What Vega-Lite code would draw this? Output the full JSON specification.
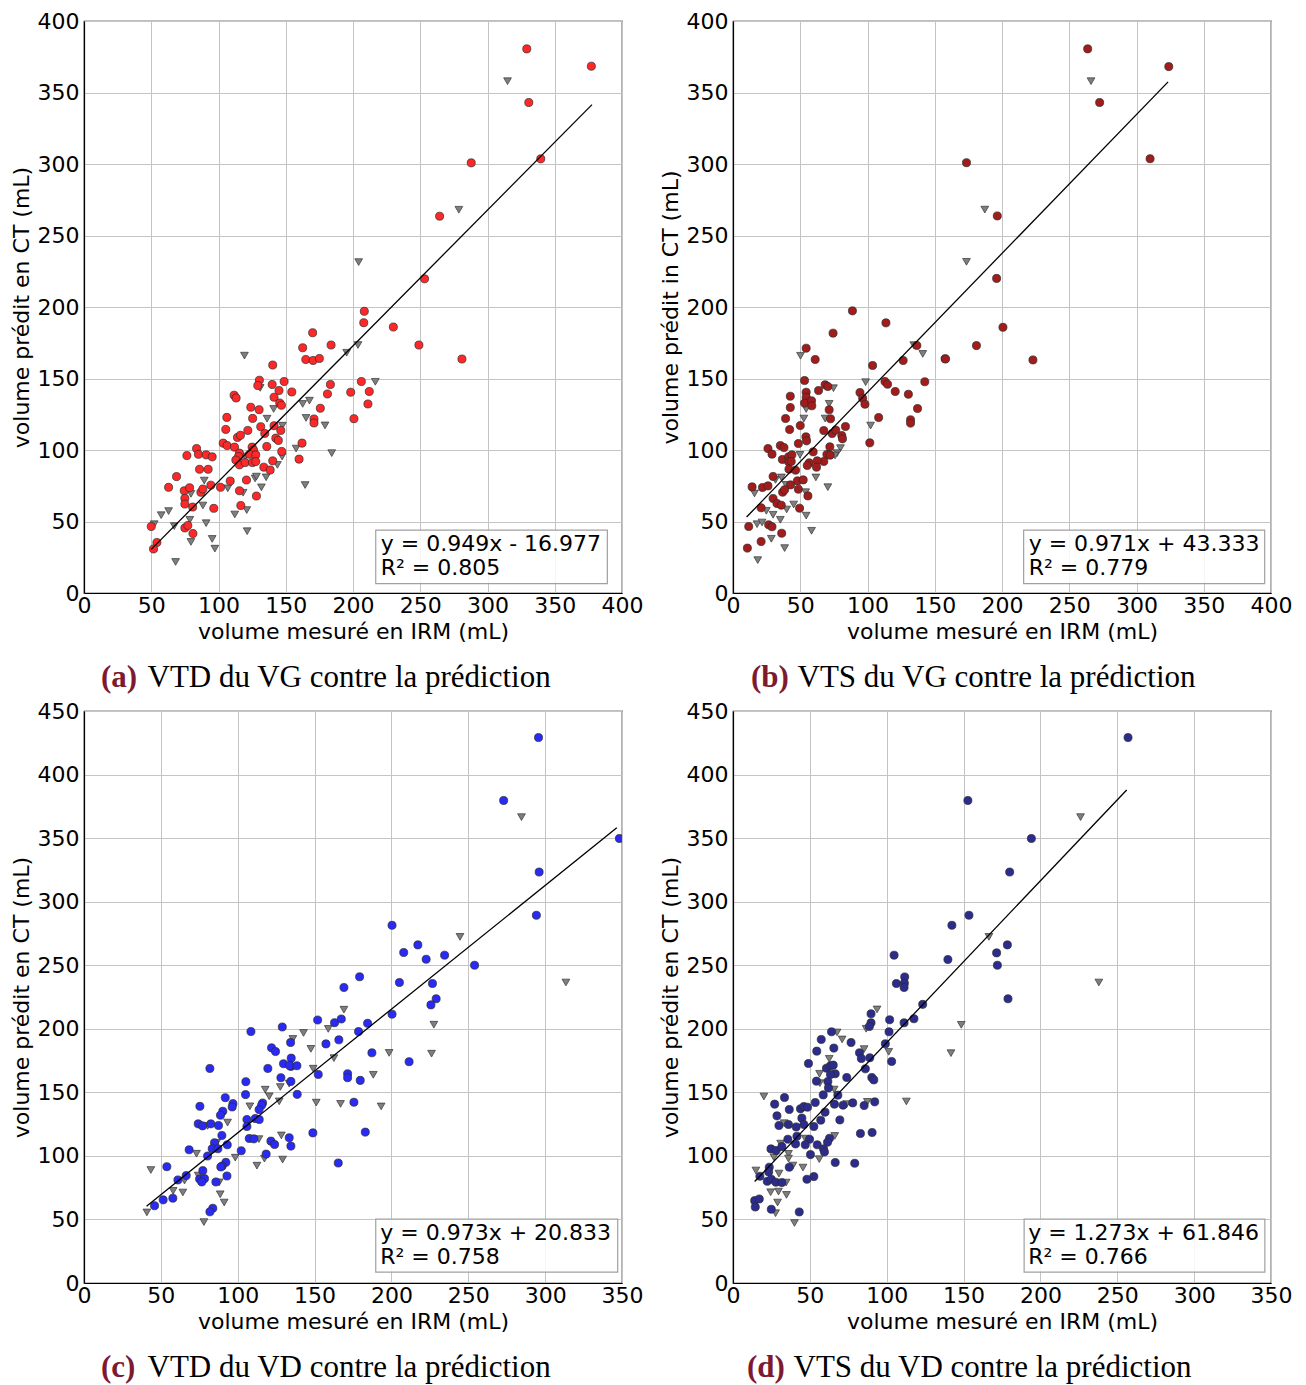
{
  "$schema": "https://vega.github.io/schema/vega-lite/v6.json",
  "background": "white",
  "padding": {"left": 9, "top": 9, "right": 5, "bottom": 5},
  "columns": 2,
  "spacing": {"row": 118, "column": 111},
  "bounds": "flush",
  "datasets": {
    "one": [{"k": 1}],
    "a": [
      {"x":208,"y":189,"s":"o"},{"x":230,"y":186,"s":"o"},{"x":170,"y":182,"s":"o"},{"x":162.6,"y":171.5,"s":"o"},{"x":183.7,"y":173.4,"s":"o"},{"x":164.9,"y":163.3,"s":"o"},{"x":170.3,"y":162.6,"s":"o"},{"x":175,"y":164,"s":"o"},{"x":140.3,"y":159.4,"s":"o"},{"x":130.4,"y":148.8,"s":"o"},{"x":129.2,"y":145.1,"s":"o"},{"x":139.9,"y":145.8,"s":"o"},{"x":148.8,"y":147.9,"s":"o"},{"x":145,"y":141.6,"s":"o"},{"x":154.5,"y":140.6,"s":"o"},{"x":141.3,"y":136.9,"s":"o"},{"x":183.2,"y":145.8,"s":"o"},{"x":181,"y":139.2,"s":"o"},{"x":198.3,"y":140.4,"s":"o"},{"x":206.2,"y":147.9,"s":"o"},{"x":212.1,"y":140.9,"s":"o"},{"x":211.1,"y":132.2,"s":"o"},{"x":200.7,"y":121.9,"s":"o"},{"x":175.7,"y":129.2,"s":"o"},{"x":171,"y":121.7,"s":"o"},{"x":171,"y":118.9,"s":"o"},{"x":162.1,"y":104.8,"s":"o"},{"x":159.9,"y":93.6,"s":"o"},{"x":111.6,"y":138.3,"s":"o"},{"x":113.1,"y":136.4,"s":"o"},{"x":124,"y":129.9,"s":"o"},{"x":130.2,"y":128.2,"s":"o"},{"x":145.5,"y":132.9,"s":"o"},{"x":146.8,"y":131.3,"s":"o"},{"x":106.2,"y":122.8,"s":"o"},{"x":125.4,"y":122.1,"s":"o"},{"x":105.4,"y":114.4,"s":"o"},{"x":121.8,"y":113.7,"s":"o"},{"x":131.4,"y":116.3,"s":"o"},{"x":141.3,"y":117,"s":"o"},{"x":146.3,"y":113.7,"s":"o"},{"x":134.4,"y":111.6,"s":"o"},{"x":114.1,"y":108.8,"s":"o"},{"x":116.3,"y":110.3,"s":"o"},{"x":142.6,"y":108.3,"s":"o"},{"x":144.5,"y":106.7,"s":"o"},{"x":103.5,"y":104.8,"s":"o"},{"x":106.4,"y":103.1,"s":"o"},{"x":111.9,"y":102,"s":"o"},{"x":125,"y":102,"s":"o"},{"x":126,"y":100,"s":"o"},{"x":135.9,"y":102.5,"s":"o"},{"x":147,"y":99,"s":"o"},{"x":115.6,"y":97.8,"s":"o"},{"x":114.9,"y":95.4,"s":"o"},{"x":112.9,"y":93,"s":"o"},{"x":115.6,"y":89.6,"s":"o"},{"x":123,"y":97,"s":"o"},{"x":127.7,"y":96.6,"s":"o"},{"x":119.8,"y":91.2,"s":"o"},{"x":125.2,"y":91.2,"s":"o"},{"x":127.7,"y":91.9,"s":"o"},{"x":133.7,"y":88,"s":"o"},{"x":140.3,"y":92.4,"s":"o"},{"x":138.4,"y":86,"s":"o"},{"x":83.7,"y":101,"s":"o"},{"x":76.5,"y":96.1,"s":"o"},{"x":85.1,"y":97,"s":"o"},{"x":90.8,"y":96.6,"s":"o"},{"x":95.3,"y":95.2,"s":"o"},{"x":85.9,"y":86.5,"s":"o"},{"x":92.3,"y":86.5,"s":"o"},{"x":68.8,"y":81.4,"s":"o"},{"x":62.9,"y":73.9,"s":"o"},{"x":74.5,"y":71.5,"s":"o"},{"x":78.5,"y":73.6,"s":"o"},{"x":86.9,"y":70.4,"s":"o"},{"x":88.4,"y":72.7,"s":"o"},{"x":94.3,"y":75.4,"s":"o"},{"x":101.5,"y":73.9,"s":"o"},{"x":108.7,"y":78.3,"s":"o"},{"x":120.8,"y":79,"s":"o"},{"x":115.6,"y":71.5,"s":"o"},{"x":128.2,"y":67.8,"s":"o"},{"x":75,"y":66.2,"s":"o"},{"x":75,"y":62.2,"s":"o"},{"x":80.8,"y":60.1,"s":"o"},{"x":96.5,"y":59.2,"s":"o"},{"x":116.6,"y":61.2,"s":"o"},{"x":50,"y":46.5,"s":"o"},{"x":75,"y":45.5,"s":"o"},{"x":77.2,"y":47.2,"s":"o"},{"x":81,"y":41.6,"s":"o"},{"x":54.2,"y":35.3,"s":"o"},{"x":51.7,"y":30.8,"s":"o"},
      {"x":329.2,"y":380.5,"s":"o"},{"x":377.2,"y":368.4,"s":"o"},{"x":330.7,"y":343,"s":"o"},{"x":287.9,"y":300.8,"s":"o"},{"x":339.6,"y":303.6,"s":"o"},{"x":264.4,"y":263.5,"s":"o"},{"x":253.2,"y":219.7,"s":"o"},{"x":208.4,"y":197,"s":"o"},{"x":249,"y":173.4,"s":"o"},{"x":281,"y":163.6,"s":"o"},
      {"x":119.3,"y":166,"s":"v"},{"x":203.7,"y":173.4,"s":"v"},{"x":195.3,"y":168,"s":"v"},{"x":216.6,"y":147.7,"s":"v"},{"x":131,"y":143.4,"s":"v"},{"x":162.6,"y":132.2,"s":"v"},{"x":167.6,"y":134.5,"s":"v"},{"x":165.1,"y":122.4,"s":"v"},{"x":179.2,"y":117.2,"s":"v"},{"x":184.2,"y":97.8,"s":"v"},{"x":164.4,"y":75.5,"s":"v"},{"x":157.7,"y":101,"s":"v"},{"x":141,"y":128.7,"s":"v"},{"x":136.1,"y":121.9,"s":"v"},{"x":147.5,"y":117,"s":"v"},{"x":147.3,"y":95.4,"s":"v"},{"x":119.8,"y":95.4,"s":"v"},{"x":143.8,"y":89.6,"s":"v"},{"x":89.4,"y":78.6,"s":"v"},{"x":106.9,"y":73.2,"s":"v"},{"x":127.2,"y":80.1,"s":"v"},{"x":128.2,"y":81.4,"s":"v"},{"x":135.4,"y":80.9,"s":"v"},{"x":131.9,"y":73.9,"s":"v"},{"x":118.3,"y":70.1,"s":"v"},{"x":79.5,"y":69.3,"s":"v"},{"x":88.4,"y":61.2,"s":"v"},{"x":121,"y":58,"s":"v"},{"x":112.1,"y":54.9,"s":"v"},{"x":57.4,"y":54.4,"s":"v"},{"x":62.9,"y":57.3,"s":"v"},{"x":52.2,"y":48.1,"s":"v"},{"x":67.1,"y":46.8,"s":"v"},{"x":78.7,"y":51.2,"s":"v"},{"x":90.8,"y":48.8,"s":"v"},{"x":79.5,"y":35.7,"s":"v"},{"x":95.3,"y":37.8,"s":"v"},{"x":97.3,"y":31,"s":"v"},{"x":121.3,"y":43.2,"s":"v"},{"x":68.1,"y":21.7,"s":"v"},{"x":314.9,"y":357.9,"s":"v"},{"x":278.7,"y":268,"s":"v"},{"x":204.2,"y":231.4,"s":"v"}
    ],
    "b": [
      {"x":88.8,"y":197.3,"s":"o"},{"x":113.7,"y":188.9,"s":"o"},{"x":74.4,"y":181.7,"s":"o"},{"x":54.4,"y":171.2,"s":"o"},{"x":61.1,"y":163.3,"s":"o"},{"x":136.7,"y":173.1,"s":"o"},{"x":157.7,"y":163.8,"s":"o"},{"x":126.5,"y":162.6,"s":"o"},{"x":103.8,"y":159.1,"s":"o"},{"x":53.2,"y":148.6,"s":"o"},{"x":63.6,"y":141.6,"s":"o"},{"x":68.5,"y":145.6,"s":"o"},{"x":70.5,"y":144.4,"s":"o"},{"x":113,"y":147.9,"s":"o"},{"x":114.9,"y":146,"s":"o"},{"x":120.6,"y":140.9,"s":"o"},{"x":130.4,"y":139,"s":"o"},{"x":142.6,"y":147.7,"s":"o"},{"x":137.2,"y":129,"s":"o"},{"x":132,"y":121.1,"s":"o"},{"x":132,"y":118.8,"s":"o"},{"x":94.4,"y":140.2,"s":"o"},{"x":96.4,"y":136.2,"s":"o"},{"x":98.1,"y":132,"s":"o"},{"x":108.3,"y":122.7,"s":"o"},{"x":101.7,"y":105,"s":"o"},{"x":42.6,"y":137.6,"s":"o"},{"x":42.6,"y":129.7,"s":"o"},{"x":54.4,"y":140.4,"s":"o"},{"x":54.4,"y":136.9,"s":"o"},{"x":53.2,"y":132.8,"s":"o"},{"x":58.4,"y":134.4,"s":"o"},{"x":58.6,"y":130.9,"s":"o"},{"x":71.5,"y":128.1,"s":"o"},{"x":39.1,"y":122,"s":"o"},{"x":42.1,"y":114.3,"s":"o"},{"x":50,"y":117.1,"s":"o"},{"x":72.5,"y":121.8,"s":"o"},{"x":67.5,"y":113.6,"s":"o"},{"x":73.7,"y":111.5,"s":"o"},{"x":76.4,"y":113.9,"s":"o"},{"x":83.6,"y":116.4,"s":"o"},{"x":80.9,"y":110.1,"s":"o"},{"x":81.4,"y":107.8,"s":"o"},{"x":54.2,"y":109.2,"s":"o"},{"x":54.7,"y":106.4,"s":"o"},{"x":48.6,"y":104.5,"s":"o"},{"x":35.2,"y":103.1,"s":"o"},{"x":37.9,"y":101.7,"s":"o"},{"x":26,"y":101,"s":"o"},{"x":29,"y":97.1,"s":"o"},{"x":36.7,"y":93.4,"s":"o"},{"x":41.4,"y":95.3,"s":"o"},{"x":43.8,"y":96.6,"s":"o"},{"x":41.4,"y":91.7,"s":"o"},{"x":43.3,"y":92,"s":"o"},{"x":59.6,"y":98.7,"s":"o"},{"x":72,"y":102.2,"s":"o"},{"x":69.8,"y":96.9,"s":"o"},{"x":72.2,"y":96.4,"s":"o"},{"x":67.5,"y":92,"s":"o"},{"x":62.6,"y":92.4,"s":"o"},{"x":56.7,"y":91,"s":"o"},{"x":55.2,"y":89.2,"s":"o"},{"x":62.1,"y":88,"s":"o"},{"x":41.6,"y":86.6,"s":"o"},{"x":46.5,"y":85.9,"s":"o"},{"x":29.8,"y":81.5,"s":"o"},{"x":47.9,"y":78.4,"s":"o"},{"x":52.2,"y":79.1,"s":"o"},{"x":14.2,"y":74.2,"s":"o"},{"x":21.9,"y":73.8,"s":"o"},{"x":26,"y":74.9,"s":"o"},{"x":42.8,"y":75.6,"s":"o"},{"x":36.9,"y":70.5,"s":"o"},{"x":38.4,"y":72.2,"s":"o"},{"x":48.6,"y":72.6,"s":"o"},{"x":55.7,"y":67.9,"s":"o"},{"x":29.8,"y":66.1,"s":"o"},{"x":32.7,"y":62.6,"s":"o"},{"x":35.9,"y":61.4,"s":"o"},{"x":49.5,"y":59.3,"s":"o"},{"x":20.9,"y":59.6,"s":"o"},{"x":11.7,"y":46.5,"s":"o"},{"x":26.5,"y":47.7,"s":"o"},{"x":29,"y":46.3,"s":"o"},{"x":20.9,"y":36,"s":"o"},{"x":36.2,"y":41.8,"s":"o"},{"x":10.7,"y":31.4,"s":"o"},
      {"x":263.7,"y":380.5,"s":"o"},{"x":324,"y":368.1,"s":"o"},{"x":272.6,"y":343,"s":"o"},{"x":173.6,"y":300.9,"s":"o"},{"x":310.1,"y":303.7,"s":"o"},{"x":196.5,"y":263.7,"s":"o"},{"x":196,"y":220,"s":"o"},{"x":200.7,"y":185.8,"s":"o"},{"x":181,"y":173,"s":"o"},{"x":158,"y":163.7,"s":"o"},{"x":223,"y":163,"s":"o"},
      {"x":50.2,"y":165.9,"s":"v"},{"x":134.4,"y":173.3,"s":"v"},{"x":141.1,"y":167.2,"s":"v"},{"x":74.7,"y":143.2,"s":"v"},{"x":98.6,"y":147.4,"s":"v"},{"x":102.3,"y":117.1,"s":"v"},{"x":54.4,"y":128.6,"s":"v"},{"x":71.5,"y":132.3,"s":"v"},{"x":52.7,"y":122,"s":"v"},{"x":68.5,"y":122,"s":"v"},{"x":49.8,"y":96.6,"s":"v"},{"x":79.9,"y":101.3,"s":"v"},{"x":77.4,"y":97.8,"s":"v"},{"x":75.9,"y":96.2,"s":"v"},{"x":61.6,"y":80.8,"s":"v"},{"x":31.6,"y":79.1,"s":"v"},{"x":36,"y":80.8,"s":"v"},{"x":39.4,"y":75.6,"s":"v"},{"x":70.5,"y":74,"s":"v"},{"x":16,"y":69.6,"s":"v"},{"x":54,"y":70.5,"s":"v"},{"x":45.1,"y":61.9,"s":"v"},{"x":39.9,"y":58.4,"s":"v"},{"x":54.4,"y":54.1,"s":"v"},{"x":24.8,"y":57.5,"s":"v"},{"x":29.8,"y":54.7,"s":"v"},{"x":35.2,"y":51.2,"s":"v"},{"x":17.9,"y":48.1,"s":"v"},{"x":21.6,"y":49.3,"s":"v"},{"x":28.5,"y":37.9,"s":"v"},{"x":58.4,"y":43.5,"s":"v"},{"x":38.4,"y":31.4,"s":"v"},{"x":18.4,"y":23,"s":"v"},{"x":266.2,"y":357.9,"s":"v"},{"x":187.2,"y":268.1,"s":"v"},{"x":173.6,"y":231.6,"s":"v"}
    ],
    "c": [
      {"x":179.3,"y":240.9,"s":"o"},{"x":169.1,"y":232.5,"s":"o"},{"x":152,"y":206.9,"s":"o"},{"x":163,"y":204.8,"s":"o"},{"x":167.4,"y":207.7,"s":"o"},{"x":184.5,"y":204.3,"s":"o"},{"x":178.6,"y":197.8,"s":"o"},{"x":187.3,"y":181.1,"s":"o"},{"x":129,"y":201.4,"s":"o"},{"x":108.6,"y":197.8,"s":"o"},{"x":134.4,"y":189.2,"s":"o"},{"x":157.4,"y":188.1,"s":"o"},{"x":165.8,"y":191.3,"s":"o"},{"x":122,"y":185,"s":"o"},{"x":124.6,"y":182.1,"s":"o"},{"x":134.8,"y":176.9,"s":"o"},{"x":134.6,"y":170.4,"s":"o"},{"x":129.8,"y":172.5,"s":"o"},{"x":133.7,"y":171.1,"s":"o"},{"x":138.5,"y":170.9,"s":"o"},{"x":119.6,"y":168.8,"s":"o"},{"x":128.1,"y":161.5,"s":"o"},{"x":134.6,"y":158.6,"s":"o"},{"x":152.4,"y":164.1,"s":"o"},{"x":171.5,"y":164.6,"s":"o"},{"x":171.5,"y":161.5,"s":"o"},{"x":179.7,"y":159.4,"s":"o"},{"x":105.3,"y":158.4,"s":"o"},{"x":81.9,"y":168.8,"s":"o"},{"x":138.7,"y":148.4,"s":"o"},{"x":105.1,"y":148.2,"s":"o"},{"x":91.9,"y":145.8,"s":"o"},{"x":96.9,"y":141.1,"s":"o"},{"x":96.4,"y":138.5,"s":"o"},{"x":116.2,"y":141.6,"s":"o"},{"x":115.5,"y":139.8,"s":"o"},{"x":113.9,"y":136.4,"s":"o"},{"x":175.6,"y":142.2,"s":"o"},{"x":75.4,"y":139,"s":"o"},{"x":90.3,"y":135.1,"s":"o"},{"x":88.8,"y":132,"s":"o"},{"x":74.3,"y":125.2,"s":"o"},{"x":77.1,"y":123.6,"s":"o"},{"x":82.5,"y":125.2,"s":"o"},{"x":87.5,"y":123.9,"s":"o"},{"x":106,"y":128.6,"s":"o"},{"x":106,"y":123.1,"s":"o"},{"x":111.4,"y":129.4,"s":"o"},{"x":114,"y":128.6,"s":"o"},{"x":89.7,"y":116.1,"s":"o"},{"x":84.9,"y":110.3,"s":"o"},{"x":83.4,"y":105.6,"s":"o"},{"x":87.1,"y":105.6,"s":"o"},{"x":93.2,"y":108.7,"s":"o"},{"x":107.5,"y":113.7,"s":"o"},{"x":110.5,"y":113.4,"s":"o"},{"x":121.6,"y":111.6,"s":"o"},{"x":124,"y":109,"s":"o"},{"x":133.5,"y":114.3,"s":"o"},{"x":134.6,"y":107.7,"s":"o"},{"x":148.9,"y":118.1,"s":"o"},{"x":183,"y":118.7,"s":"o"},{"x":68.4,"y":104.8,"s":"o"},{"x":80.4,"y":99.9,"s":"o"},{"x":102.3,"y":104,"s":"o"},{"x":118.5,"y":101.4,"s":"o"},{"x":165.4,"y":94.4,"s":"o"},{"x":92.3,"y":94.9,"s":"o"},{"x":89.9,"y":92,"s":"o"},{"x":89,"y":91.3,"s":"o"},{"x":53.9,"y":91.5,"s":"o"},{"x":66.5,"y":84.5,"s":"o"},{"x":61.1,"y":81.1,"s":"o"},{"x":77.3,"y":88.4,"s":"o"},{"x":75.2,"y":81.8,"s":"o"},{"x":78.4,"y":82.1,"s":"o"},{"x":76.6,"y":79.5,"s":"o"},{"x":85.8,"y":79.5,"s":"o"},{"x":93,"y":84.2,"s":"o"},{"x":57.8,"y":66.7,"s":"o"},{"x":51.5,"y":65.4,"s":"o"},{"x":45.9,"y":60.8,"s":"o"},{"x":83.8,"y":58.8,"s":"o"},{"x":81.9,"y":56,"s":"o"},
      {"x":295.7,"y":429.1,"s":"o"},{"x":273,"y":379.6,"s":"o"},{"x":348.3,"y":349.7,"s":"o"},{"x":296.1,"y":323.3,"s":"o"},{"x":294.3,"y":289.3,"s":"o"},{"x":200.4,"y":281.4,"s":"o"},{"x":217.2,"y":266,"s":"o"},{"x":208,"y":260,"s":"o"},{"x":222.6,"y":254.7,"s":"o"},{"x":234.6,"y":257.9,"s":"o"},{"x":254.1,"y":250,"s":"o"},{"x":205.2,"y":236.4,"s":"o"},{"x":226.7,"y":235.6,"s":"o"},{"x":229.1,"y":223.6,"s":"o"},{"x":225.7,"y":218.8,"s":"o"},{"x":200.4,"y":211.5,"s":"o"},{"x":211.5,"y":174.1,"s":"o"},
      {"x":169.1,"y":215,"s":"v"},{"x":142.8,"y":196.7,"s":"v"},{"x":158.9,"y":199.9,"s":"v"},{"x":188.2,"y":163.8,"s":"v"},{"x":135.9,"y":192,"s":"v"},{"x":147.6,"y":184.2,"s":"v"},{"x":162.6,"y":176.9,"s":"v"},{"x":133.5,"y":156.8,"s":"v"},{"x":149.1,"y":168.6,"s":"v"},{"x":117.9,"y":152.1,"s":"v"},{"x":127.7,"y":154.2,"s":"v"},{"x":120.5,"y":146.9,"s":"v"},{"x":107.9,"y":139,"s":"v"},{"x":127,"y":142.9,"s":"v"},{"x":151.1,"y":141.9,"s":"v"},{"x":166.9,"y":140.9,"s":"v"},{"x":93.4,"y":126.2,"s":"v"},{"x":80.4,"y":123.6,"s":"v"},{"x":86.3,"y":110.3,"s":"v"},{"x":113.8,"y":113.2,"s":"v"},{"x":128.4,"y":116.1,"s":"v"},{"x":73.2,"y":101.7,"s":"v"},{"x":98.4,"y":98.6,"s":"v"},{"x":117.4,"y":97.8,"s":"v"},{"x":112.5,"y":92.3,"s":"v"},{"x":129.2,"y":97.1,"s":"v"},{"x":43.5,"y":88.9,"s":"v"},{"x":65.4,"y":80.6,"s":"v"},{"x":74.3,"y":84.5,"s":"v"},{"x":88,"y":79.2,"s":"v"},{"x":58,"y":72.5,"s":"v"},{"x":64.3,"y":71.2,"s":"v"},{"x":40.9,"y":55.5,"s":"v"},{"x":88.6,"y":69.8,"s":"v"},{"x":91.2,"y":63.3,"s":"v"},{"x":78,"y":47.9,"s":"v"},{"x":284.6,"y":366.5,"s":"v"},{"x":244.6,"y":272.3,"s":"v"},{"x":313.5,"y":236.4,"s":"v"},{"x":227.6,"y":203.2,"s":"v"},{"x":198.5,"y":181,"s":"v"},{"x":226.1,"y":180.4,"s":"v"},{"x":193.3,"y":138.9,"s":"v"}
    ],
    "d": [
      {"x":123.4,"y":219.2,"s":"o"},{"x":89.8,"y":211.8,"s":"o"},{"x":89.8,"y":204.7,"s":"o"},{"x":88.7,"y":201.8,"s":"o"},{"x":101.9,"y":207.1,"s":"o"},{"x":101.5,"y":197.6,"s":"o"},{"x":111.3,"y":204.7,"s":"o"},{"x":117.7,"y":207.9,"s":"o"},{"x":64.1,"y":197.6,"s":"o"},{"x":57.4,"y":191.6,"s":"o"},{"x":76.8,"y":189.2,"s":"o"},{"x":65.6,"y":184.8,"s":"o"},{"x":54.5,"y":182.4,"s":"o"},{"x":82.3,"y":181.1,"s":"o"},{"x":83.5,"y":176.6,"s":"o"},{"x":89,"y":177.2,"s":"o"},{"x":99.1,"y":188.2,"s":"o"},{"x":103.2,"y":174.3,"s":"o"},{"x":49.1,"y":172.7,"s":"o"},{"x":60.8,"y":169,"s":"o"},{"x":63.4,"y":170.9,"s":"o"},{"x":65.2,"y":171.4,"s":"o"},{"x":66.5,"y":164.6,"s":"o"},{"x":63.4,"y":164,"s":"o"},{"x":54.3,"y":158.8,"s":"o"},{"x":61.7,"y":158.5,"s":"o"},{"x":74,"y":161.7,"s":"o"},{"x":86.1,"y":168.5,"s":"o"},{"x":90.3,"y":161.7,"s":"o"},{"x":91.6,"y":159.8,"s":"o"},{"x":62.1,"y":153.5,"s":"o"},{"x":58.7,"y":148,"s":"o"},{"x":68.2,"y":147.8,"s":"o"},{"x":33.5,"y":145.9,"s":"o"},{"x":27.1,"y":140.7,"s":"o"},{"x":36.6,"y":136.5,"s":"o"},{"x":28.6,"y":131.5,"s":"o"},{"x":43.9,"y":137,"s":"o"},{"x":46.1,"y":138.8,"s":"o"},{"x":48.5,"y":138.3,"s":"o"},{"x":53.5,"y":142,"s":"o"},{"x":66,"y":140.7,"s":"o"},{"x":71.6,"y":139.9,"s":"o"},{"x":77.9,"y":141.7,"s":"o"},{"x":85.3,"y":139.6,"s":"o"},{"x":92.2,"y":142.5,"s":"o"},{"x":59.9,"y":134.4,"s":"o"},{"x":44.8,"y":129.7,"s":"o"},{"x":57.1,"y":128.1,"s":"o"},{"x":69.5,"y":128.3,"s":"o"},{"x":29.9,"y":123.9,"s":"o"},{"x":36.1,"y":124.7,"s":"o"},{"x":41.1,"y":122.8,"s":"o"},{"x":46.1,"y":124.7,"s":"o"},{"x":52.6,"y":123.1,"s":"o"},{"x":82.9,"y":117.6,"s":"o"},{"x":90.5,"y":118.4,"s":"o"},{"x":35.7,"y":113.1,"s":"o"},{"x":41.6,"y":115.5,"s":"o"},{"x":49.8,"y":113.1,"s":"o"},{"x":62.8,"y":113.9,"s":"o"},{"x":61.5,"y":110.8,"s":"o"},{"x":40.7,"y":109.4,"s":"o"},{"x":47,"y":108.7,"s":"o"},{"x":54.8,"y":108.7,"s":"o"},{"x":58.9,"y":105.5,"s":"o"},{"x":59.5,"y":103.1,"s":"o"},{"x":24.7,"y":105.5,"s":"o"},{"x":28.1,"y":104.2,"s":"o"},{"x":31.8,"y":107.3,"s":"o"},{"x":50.4,"y":101,"s":"o"},{"x":66.5,"y":94.8,"s":"o"},{"x":79.2,"y":94.2,"s":"o"},{"x":36.6,"y":91.1,"s":"o"},{"x":23.6,"y":91.1,"s":"o"},{"x":23.2,"y":87.4,"s":"o"},{"x":17.5,"y":84,"s":"o"},{"x":22.3,"y":80,"s":"o"},{"x":24.9,"y":81.6,"s":"o"},{"x":27.9,"y":79.3,"s":"o"},{"x":31.8,"y":79,"s":"o"},{"x":52.6,"y":83.7,"s":"o"},{"x":48.1,"y":81.6,"s":"o"},{"x":14.1,"y":64.8,"s":"o"},{"x":17.1,"y":66.1,"s":"o"},{"x":14.5,"y":59.8,"s":"o"},{"x":24.9,"y":58,"s":"o"},{"x":43.1,"y":55.9,"s":"o"},
      {"x":257,"y":429.1,"s":"o"},{"x":152.8,"y":379.6,"s":"o"},{"x":194.1,"y":349.7,"s":"o"},{"x":180,"y":323.3,"s":"o"},{"x":153.5,"y":289.3,"s":"o"},{"x":142.4,"y":281.4,"s":"o"},{"x":178.5,"y":266,"s":"o"},{"x":104.8,"y":257.9,"s":"o"},{"x":139.8,"y":254.5,"s":"o"},{"x":171.5,"y":259.7,"s":"o"},{"x":172,"y":250,"s":"o"},{"x":111.7,"y":240.8,"s":"o"},{"x":106.3,"y":235.6,"s":"o"},{"x":111.5,"y":235.9,"s":"o"},{"x":111.3,"y":232.5,"s":"o"},{"x":178.9,"y":223.6,"s":"o"},
      {"x":93.7,"y":215.2,"s":"v"},{"x":86.6,"y":200,"s":"v"},{"x":148.5,"y":203.1,"s":"v"},{"x":67.7,"y":197.1,"s":"v"},{"x":71,"y":191.6,"s":"v"},{"x":85.3,"y":184,"s":"v"},{"x":101.3,"y":181.9,"s":"v"},{"x":141.8,"y":180.8,"s":"v"},{"x":62.6,"y":176.4,"s":"v"},{"x":56.3,"y":164.6,"s":"v"},{"x":56.5,"y":157.2,"s":"v"},{"x":65.8,"y":152.2,"s":"v"},{"x":20.1,"y":146.7,"s":"v"},{"x":74,"y":140.7,"s":"v"},{"x":87.4,"y":142.5,"s":"v"},{"x":112.8,"y":142.8,"s":"v"},{"x":33.3,"y":125.7,"s":"v"},{"x":66.2,"y":115.7,"s":"v"},{"x":47,"y":113.6,"s":"v"},{"x":31,"y":109.7,"s":"v"},{"x":26.6,"y":98.9,"s":"v"},{"x":36.1,"y":101.6,"s":"v"},{"x":36.1,"y":97.9,"s":"v"},{"x":56.1,"y":97.4,"s":"v"},{"x":39,"y":92.4,"s":"v"},{"x":45.5,"y":90.8,"s":"v"},{"x":14.9,"y":88.5,"s":"v"},{"x":34.6,"y":79,"s":"v"},{"x":29.9,"y":86.1,"s":"v"},{"x":24.5,"y":71.4,"s":"v"},{"x":29.6,"y":71.9,"s":"v"},{"x":34.8,"y":69.3,"s":"v"},{"x":29,"y":63.3,"s":"v"},{"x":27.7,"y":54.9,"s":"v"},{"x":40,"y":47.2,"s":"v"},{"x":226.1,"y":366.5,"s":"v"},{"x":166.5,"y":272.3,"s":"v"},{"x":238,"y":236.4,"s":"v"}
    ],
    "la": [{"x":50,"y":30.5},{"x":377.7,"y":341.5}],
    "lb": [{"x":10.1,"y":53.1},{"x":323.5,"y":357.4}],
    "lc": [{"x":40.7,"y":60.4},{"x":346.6,"y":358.1}],
    "ld": [{"x":14.1,"y":79.8},{"x":256.1,"y":387.8}]
  },
  "concat": [
    {
      "width": 538, "height": 572,
      "title": {"text": "(a)", "subtitle": "\u200b\u00a0\u00a0\u00a0\u00a0\u00a0\u00a0VTD du VG contre la prédiction", "dx": 17},
      "layer": [
        {"data": {"name": "a"}, "transform": [{"filter": "datum.s === 'v'"}], "mark": {"type": "point", "shape": "triangle-down", "filled": true, "fill": "#7f7f7f", "stroke": "#333333", "strokeWidth": 0.7, "size": 60, "opacity": 1, "clip": true},
         "encoding": {"x": {"field": "x", "type": "quantitative", "title": "volume mesuré en IRM (mL)", "scale": {"domain": [0, 400], "nice": false}, "axis": {"values": [0,50,100,150,200,250,300,350,400]}}, "y": {"field": "y", "type": "quantitative", "title": "volume prédit en CT (mL)", "scale": {"domain": [0, 400], "nice": false}, "axis": {"values": [0,50,100,150,200,250,300,350,400]}}}},
        {"data": {"name": "a"}, "transform": [{"filter": "datum.s === 'o'"}], "mark": {"type": "point", "shape": "circle", "filled": true, "fill": "#ff2828", "stroke": "#2a2a2a", "strokeWidth": 0.7, "size": 65, "opacity": 1, "clip": true},
         "encoding": {"x": {"field": "x", "type": "quantitative", "title": "volume mesuré en IRM (mL)"}, "y": {"field": "y", "type": "quantitative", "title": "volume prédit en CT (mL)"}}},
        {"data": {"name": "la"}, "mark": {"type": "line", "color": "black", "strokeWidth": 1.3, "clip": true},
         "encoding": {"x": {"field": "x", "type": "quantitative", "title": "volume mesuré en IRM (mL)"}, "y": {"field": "y", "type": "quantitative", "title": "volume prédit en CT (mL)"}}},
        {"data": {"name": "one"}, "mark": {"type": "rect", "fill": "white", "fillOpacity": 0.85, "stroke": "#a0a0a0", "strokeWidth": 1.2},
         "encoding": {"x": {"datum": 216.9, "type": "quantitative", "title": "volume mesuré en IRM (mL)"}, "x2": {"datum": 389.1}, "y": {"datum": 6.5, "type": "quantitative", "title": "volume prédit en CT (mL)"}, "y2": {"datum": 44}}},
        {"data": {"name": "one"}, "mark": {"type": "text", "text": ["y = 0.949x - 16.977", "R² = 0.805"], "align": "left", "baseline": "top", "font": "DejaVu Sans", "fontSize": 22, "lineHeight": 24.5, "color": "black"},
         "encoding": {"x": {"datum": 220.6, "type": "quantitative", "title": "volume mesuré en IRM (mL)"}, "y": {"datum": 41.5, "type": "quantitative", "title": "volume prédit en CT (mL)"}}}
      ]
    },
    {
      "width": 538, "height": 572,
      "title": {"text": "(b)", "subtitle": "\u200b\u00a0\u00a0\u00a0\u00a0\u00a0\u00a0VTS du VG contre la prédiction", "dx": 18},
      "layer": [
        {"data": {"name": "b"}, "transform": [{"filter": "datum.s === 'v'"}], "mark": {"type": "point", "shape": "triangle-down", "filled": true, "fill": "#7f7f7f", "stroke": "#333333", "strokeWidth": 0.7, "size": 60, "opacity": 1, "clip": true},
         "encoding": {"x": {"field": "x", "type": "quantitative", "title": "volume mesuré en IRM (mL)", "scale": {"domain": [0, 400], "nice": false}, "axis": {"values": [0,50,100,150,200,250,300,350,400]}}, "y": {"field": "y", "type": "quantitative", "title": "volume prédit in CT (mL)", "scale": {"domain": [0, 400], "nice": false}, "axis": {"values": [0,50,100,150,200,250,300,350,400]}}}},
        {"data": {"name": "b"}, "transform": [{"filter": "datum.s === 'o'"}], "mark": {"type": "point", "shape": "circle", "filled": true, "fill": "#a31c1c", "stroke": "#2a2a2a", "strokeWidth": 0.7, "size": 65, "opacity": 1, "clip": true},
         "encoding": {"x": {"field": "x", "type": "quantitative", "title": "volume mesuré en IRM (mL)"}, "y": {"field": "y", "type": "quantitative", "title": "volume prédit in CT (mL)"}}},
        {"data": {"name": "lb"}, "mark": {"type": "line", "color": "black", "strokeWidth": 1.3, "clip": true},
         "encoding": {"x": {"field": "x", "type": "quantitative", "title": "volume mesuré en IRM (mL)"}, "y": {"field": "y", "type": "quantitative", "title": "volume prédit in CT (mL)"}}},
        {"data": {"name": "one"}, "mark": {"type": "rect", "fill": "white", "fillOpacity": 0.85, "stroke": "#a0a0a0", "strokeWidth": 1.2},
         "encoding": {"x": {"datum": 216.1, "type": "quantitative", "title": "volume mesuré en IRM (mL)"}, "x2": {"datum": 395.3}, "y": {"datum": 6.5, "type": "quantitative", "title": "volume prédit in CT (mL)"}, "y2": {"datum": 44}}},
        {"data": {"name": "one"}, "mark": {"type": "text", "text": ["y = 0.971x + 43.333", "R² = 0.779"], "align": "left", "baseline": "top", "font": "DejaVu Sans", "fontSize": 22, "lineHeight": 24.5, "color": "black"},
         "encoding": {"x": {"datum": 219.8, "type": "quantitative", "title": "volume mesuré en IRM (mL)"}, "y": {"datum": 41.5, "type": "quantitative", "title": "volume prédit in CT (mL)"}}}
      ]
    },
    {
      "width": 538, "height": 572,
      "title": {"text": "(c)", "subtitle": "\u200b\u00a0\u00a0\u00a0\u00a0\u00a0\u00a0VTD du VD contre la prédiction", "dx": 17},
      "layer": [
        {"data": {"name": "c"}, "transform": [{"filter": "datum.s === 'v'"}], "mark": {"type": "point", "shape": "triangle-down", "filled": true, "fill": "#7f7f7f", "stroke": "#333333", "strokeWidth": 0.7, "size": 60, "opacity": 1, "clip": true},
         "encoding": {"x": {"field": "x", "type": "quantitative", "title": "volume mesuré en IRM (mL)", "scale": {"domain": [0, 350], "nice": false}, "axis": {"values": [0,50,100,150,200,250,300,350]}}, "y": {"field": "y", "type": "quantitative", "title": "volume prédit en CT (mL)", "scale": {"domain": [0, 450], "nice": false}, "axis": {"values": [0,50,100,150,200,250,300,350,400,450]}}}},
        {"data": {"name": "c"}, "transform": [{"filter": "datum.s === 'o'"}], "mark": {"type": "point", "shape": "circle", "filled": true, "fill": "#2a2af5", "stroke": "#2a2a2a", "strokeWidth": 0.7, "size": 65, "opacity": 1, "clip": true},
         "encoding": {"x": {"field": "x", "type": "quantitative", "title": "volume mesuré en IRM (mL)"}, "y": {"field": "y", "type": "quantitative", "title": "volume prédit en CT (mL)"}}},
        {"data": {"name": "lc"}, "mark": {"type": "line", "color": "black", "strokeWidth": 1.3, "clip": true},
         "encoding": {"x": {"field": "x", "type": "quantitative", "title": "volume mesuré en IRM (mL)"}, "y": {"field": "y", "type": "quantitative", "title": "volume prédit en CT (mL)"}}},
        {"data": {"name": "one"}, "mark": {"type": "rect", "fill": "white", "fillOpacity": 0.85, "stroke": "#a0a0a0", "strokeWidth": 1.2},
         "encoding": {"x": {"datum": 189.8, "type": "quantitative", "title": "volume mesuré en IRM (mL)"}, "x2": {"datum": 347.2}, "y": {"datum": 8.6, "type": "quantitative", "title": "volume prédit en CT (mL)"}, "y2": {"datum": 50.3}}},
        {"data": {"name": "one"}, "mark": {"type": "text", "text": ["y = 0.973x + 20.833", "R² = 0.758"], "align": "left", "baseline": "top", "font": "DejaVu Sans", "fontSize": 22, "lineHeight": 24.5, "color": "black"},
         "encoding": {"x": {"datum": 192.7, "type": "quantitative", "title": "volume mesuré en IRM (mL)"}, "y": {"datum": 47.4, "type": "quantitative", "title": "volume prédit en CT (mL)"}}}
      ]
    },
    {
      "width": 538, "height": 572,
      "title": {"text": "(d)", "subtitle": "\u200b\u00a0\u00a0\u00a0\u00a0\u00a0\u00a0VTS du VD contre la prédiction", "dx": 14},
      "layer": [
        {"data": {"name": "d"}, "transform": [{"filter": "datum.s === 'v'"}], "mark": {"type": "point", "shape": "triangle-down", "filled": true, "fill": "#7f7f7f", "stroke": "#333333", "strokeWidth": 0.7, "size": 60, "opacity": 1, "clip": true},
         "encoding": {"x": {"field": "x", "type": "quantitative", "title": "volume mesuré en IRM (mL)", "scale": {"domain": [0, 350], "nice": false}, "axis": {"values": [0,50,100,150,200,250,300,350]}}, "y": {"field": "y", "type": "quantitative", "title": "volume prédit en CT (mL)", "scale": {"domain": [0, 450], "nice": false}, "axis": {"values": [0,50,100,150,200,250,300,350,400,450]}}}},
        {"data": {"name": "d"}, "transform": [{"filter": "datum.s === 'o'"}], "mark": {"type": "point", "shape": "circle", "filled": true, "fill": "#2c2c8e", "stroke": "#2a2a2a", "strokeWidth": 0.7, "size": 65, "opacity": 1, "clip": true},
         "encoding": {"x": {"field": "x", "type": "quantitative", "title": "volume mesuré en IRM (mL)"}, "y": {"field": "y", "type": "quantitative", "title": "volume prédit en CT (mL)"}}},
        {"data": {"name": "ld"}, "mark": {"type": "line", "color": "black", "strokeWidth": 1.3, "clip": true},
         "encoding": {"x": {"field": "x", "type": "quantitative", "title": "volume mesuré en IRM (mL)"}, "y": {"field": "y", "type": "quantitative", "title": "volume prédit en CT (mL)"}}},
        {"data": {"name": "one"}, "mark": {"type": "rect", "fill": "white", "fillOpacity": 0.85, "stroke": "#a0a0a0", "strokeWidth": 1.2},
         "encoding": {"x": {"datum": 189.4, "type": "quantitative", "title": "volume mesuré en IRM (mL)"}, "x2": {"datum": 346}, "y": {"datum": 8.6, "type": "quantitative", "title": "volume prédit en CT (mL)"}, "y2": {"datum": 50.3}}},
        {"data": {"name": "one"}, "mark": {"type": "text", "text": ["y = 1.273x + 61.846", "R² = 0.766"], "align": "left", "baseline": "top", "font": "DejaVu Sans", "fontSize": 22, "lineHeight": 24.5, "color": "black"},
         "encoding": {"x": {"datum": 192, "type": "quantitative", "title": "volume mesuré en IRM (mL)"}, "y": {"datum": 47.4, "type": "quantitative", "title": "volume prédit en CT (mL)"}}}
      ]
    }
  ],
  "config": {
    "view": {"stroke": "black", "strokeWidth": 1.2},
    "axis": {
      "labelFont": "DejaVu Sans", "titleFont": "DejaVu Sans", "labelFontSize": 22, "titleFontSize": 22,
      "labelColor": "black", "titleColor": "black", "titleFontWeight": "normal",
      "domain": true, "domainColor": "black", "domainWidth": 1.2,
      "ticks": false, "grid": true, "gridColor": "#c4c4c4", "gridWidth": 1,
      "labelFlush": false, "labelOverlap": false, "labelBound": false
    },
    "axisX": {"labelPadding": 2, "titlePadding": 5},
    "axisY": {"labelPadding": 5, "titlePadding": 4},
    "title": {
      "orient": "bottom", "anchor": "start", "frame": "group", "offset": 21, "baseline": "top",
      "font": "Liberation Serif", "fontSize": 31, "fontWeight": "bold", "color": "#7d1a30",
      "subtitleFont": "Liberation Serif", "subtitleFontSize": 31, "subtitleFontWeight": "normal", "subtitleColor": "black",
      "subtitlePadding": -31
    }
  }
}
